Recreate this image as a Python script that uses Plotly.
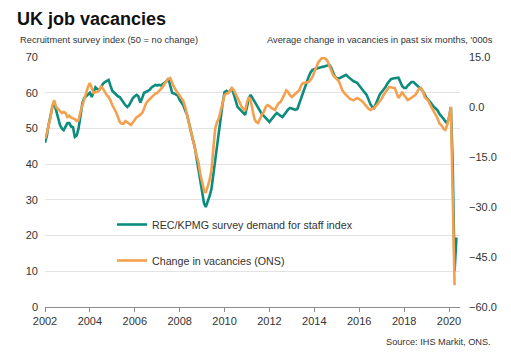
import pandas as pd
import plotly.graph_objects as go

# REC/KPMG survey demand for staff index (monthly, Jan 2002 onwards)
rec_index = [
    46, 48, 51, 54, 56, 57, 55, 53, 51, 50, 49.5, 50.5,          # 2002
    51.5, 51.5, 50.5, 50.4, 47.6, 48, 50, 53.5, 57, 58.5, 59, 59.5,  # 2003
    60, 58.8, 60, 61.5, 61, 60.8, 61.5, 62.5, 63, 63.2, 63.6, 62,    # 2004
    60.5, 60, 59.5, 59, 58.8, 58, 57, 56.5, 56, 56.5, 57.5, 58.5,    # 2005
    59, 59.4, 59, 57.2, 58.5, 60, 60.2, 60.5, 60.8, 61.5, 62, 62.2,  # 2006
    62, 62.2, 62, 62.5, 62.7, 63.2, 64, 62, 60, 59.8, 59.5, 59.2,    # 2007
    58, 57.2, 56.5, 55, 53.8, 51.5, 49, 47, 45, 42, 38.5, 35,        # 2008
    32, 29, 28, 29.4, 31, 33, 37, 42, 46, 50, 54, 57,                # 2009
    60.2, 60.5, 60, 60.5, 61.3, 59.5, 57.5, 56, 55.5, 55, 54.3, 53.8,  # 2010
    56, 58.5, 59.4, 58.5, 57.5, 56.5, 55.5, 54.8, 54, 53.5, 53, 52.3,  # 2011
    51.8, 52.5, 53.2, 53.8, 54.3, 53.8, 53.5, 53.2, 54, 54.8, 55.3, 55.7,  # 2012
    55.5, 55.3, 55.2, 55.5, 57, 59, 60.5, 62, 63, 64.5, 65.7, 66.4,  # 2013
    66.6, 66.8, 67, 67, 67.2, 67.3, 67.5, 67.6, 67.8, 67, 65.5, 64.5,  # 2014
    64.1, 64, 64.2, 64.4, 64.7, 65, 64.5, 64, 63.6, 63.2, 63, 62.7,  # 2015
    62, 61.2, 60.5, 60, 59.4, 58, 56.8, 56, 55.7, 57, 58.5, 59.5,    # 2016
    60.2, 60.8, 61.5, 62.5, 63.3, 63.8, 64, 64.1, 64.3, 64.2, 63, 61.8,  # 2017
    61.3, 61.3, 62, 62.5, 63, 63, 62.5, 62, 61.5, 61, 60.5, 59.5,    # 2018
    58.5, 58, 57.3, 56.5, 56, 55.5, 55, 54, 53.5, 52.8, 52, 51.5,    # 2019
    53, 56, 40, 10, 19.5,                                             # 2020
]

# Change in vacancies (ONS), average change in past six months, '000s
ons_change = [
    -9.5, -7.8, -5.5, -3, 0.5, 2, 0, -0.6, -1.2, -1.8, -1.5, -1.8,   # 2002
    -3, -2.6, -3.2, -3.3, -3.6, -4.2, -4, -1.5, 0.5, 2.5, 4.5, 6,     # 2003
    7.2, 5.5, 4.2, 4.5, 4.5, 5, 6.3, 5.5, 4.5, 3.6, 3, 2,             # 2004
    0.5, -0.5, -1.5, -3, -4.5, -5, -5, -4.2, -4.5, -5, -5.4, -4.5,    # 2005
    -3.8, -3, -2.8, -2.2, -1.8, -0.5, 1, 1.8, 2.3, 3, 3.5, 4,         # 2006
    4.2, 4.8, 5.4, 6, 7, 7.8, 8.4, 8.7, 7, 6, 5, 4.2,                 # 2007
    3.6, 2.8, 1.8, 0, -2.2, -4.5, -7.5, -9.5, -12, -14.5, -16.5, -20,  # 2008
    -23, -25, -25.8, -24, -22, -19, -13, -6.5, -4.5, -3.3, -1, 1,     # 2009
    3.6, 4, 4.2, 4.8, 5.7, 5, 4, 2.7, 1.5, 0.2, -0.5, -1.2,           # 2010
    1.5, 3, 2, -1.5, -3.5, -4.5, -4.8, -3.5, -2.2, -1.5, 0, 0.6,      # 2011
    0.3, -0.3, -0.6, -0.9, 0.3, 1.2, 1.5, 2.5, 3.8, 5, 4.5, 3.5,      # 2012
    3, 3.5, 4, 4.5, 5, 6.5, 7.2, 7.3, 7.5, 7.5, 8.2, 9,               # 2013
    10.5, 12, 13.2, 14, 14.6, 14.7, 14.5, 13.8, 12.5, 11, 9.6, 9,     # 2014
    8.3, 7.8, 6.5, 5, 4.2, 3.6, 3, 2.5, 2.2, 2, 2.4, 2.7,             # 2015
    2.4, 2, 1.5, 0.8, 0, -0.5, -0.9, -0.6, -0.3, 0.3, 1, 1.5,         # 2016
    2.5, 3.6, 4.5, 5.2, 6, 6, 5.8, 5.7, 4, 2.7, 3.5, 4.5,             # 2017
    3.5, 2.7, 2.1, 2.4, 2.8, 3.3, 3.6, 4.5, 5.5, 5.8, 4.8, 3,         # 2018
    2.5, 1.8, 0.6, -0.3, -1.2, -2.4, -3.6, -5, -5.5, -6.5, -6.9, -5.5,  # 2019
    -3, 0, -26, -53.5,                                                # 2020
]

rec_dates = pd.date_range("2002-01-01", periods=len(rec_index), freq="MS")
ons_dates = pd.date_range("2002-01-01", periods=len(ons_change), freq="MS")

left_ticks = [0, 10, 20, 30, 40, 50, 60, 70]
right_ticks = [-60, -45, -30, -15, 0, 15]

TEAL = "#0b8c7d"
ORANGE = "#f4a04f"
FONT = "Liberation Sans, Arial, sans-serif"
TXT = "#333333"

fig = go.Figure()
fig.add_trace(go.Scatter(
    x=rec_dates, y=rec_index, mode="lines", name="REC/KPMG survey demand for staff index",
    line=dict(color=TEAL, width=2.6), legendgroup="a", yaxis="y"))
fig.add_trace(go.Scatter(
    x=ons_dates, y=ons_change, mode="lines", name="Change in vacancies (ONS)",
    line=dict(color=ORANGE, width=2.6), legendgroup="b", yaxis="y2"))

fig.update_layout(
    width=511, height=364,
    margin=dict(l=45, r=51, t=57, b=57),
    paper_bgcolor="white", plot_bgcolor="white",
    font=dict(family=FONT, size=11, color=TXT),
    title=dict(text="<b>UK job vacancies</b>", x=17/511, xanchor="left",
               y=1-19/364, yanchor="middle",
               font=dict(family=FONT, size=18, color="#111111")),
    showlegend=True,
    legend=dict(x=(112-45)/415, y=(307-210)/250, xanchor="left", yanchor="top",
                bgcolor="rgba(0,0,0,0)", font=dict(size=10.7, color=TXT),
                tracegroupgap=17, traceorder="grouped", itemwidth=30),
    xaxis=dict(
        type="date", range=["2002-01-01", "2020-06-28"],
        tick0="2002-01-01", dtick="M24", tickformat="%Y",
        showgrid=False, showline=True, linecolor="#8c8c8c", linewidth=1,
        ticks="outside", ticklen=4, tickcolor="#8c8c8c",
        tickfont=dict(size=11, color=TXT), zeroline=False),
    yaxis=dict(
        range=[0, 70], tickvals=left_ticks, showgrid=True,
        gridcolor="#e3e3e3", gridwidth=1, zeroline=False, showline=False,
        ticks="", ticklabelstandoff=6, tickfont=dict(size=11, color=TXT)),
    yaxis2=dict(
        range=[-60, 15], tickvals=right_ticks, tickformat=".1f",
        overlaying="y", side="right", showgrid=False, zeroline=False,
        showline=False, ticks="", ticklabelstandoff=8,
        tickfont=dict(size=11, color=TXT)),
    annotations=[
        dict(text="Recruitment survey index (50 = no change)", xref="paper", yref="paper",
             x=(18-45)/415, y=(307-40)/250, xanchor="left", yanchor="middle",
             showarrow=False, font=dict(size=9.3, color=TXT)),
        dict(text="Average change in vacancies in past six months, '000s", xref="paper",
             yref="paper", x=(495-45)/415, y=(307-40)/250, xanchor="right",
             yanchor="middle", showarrow=False, font=dict(size=9.3, color=TXT)),
        dict(text="Source: IHS Markit, ONS.", xref="paper", yref="paper",
             x=(493-45)/415, y=(307-342)/250, xanchor="right", yanchor="middle",
             showarrow=False, font=dict(size=9.2, color=TXT)),
    ],
)

fig.write_html("out.html", config={"displayModeBar": False},
               post_script="document.body.style.margin='0px';document.body.style.overflow='hidden';")
